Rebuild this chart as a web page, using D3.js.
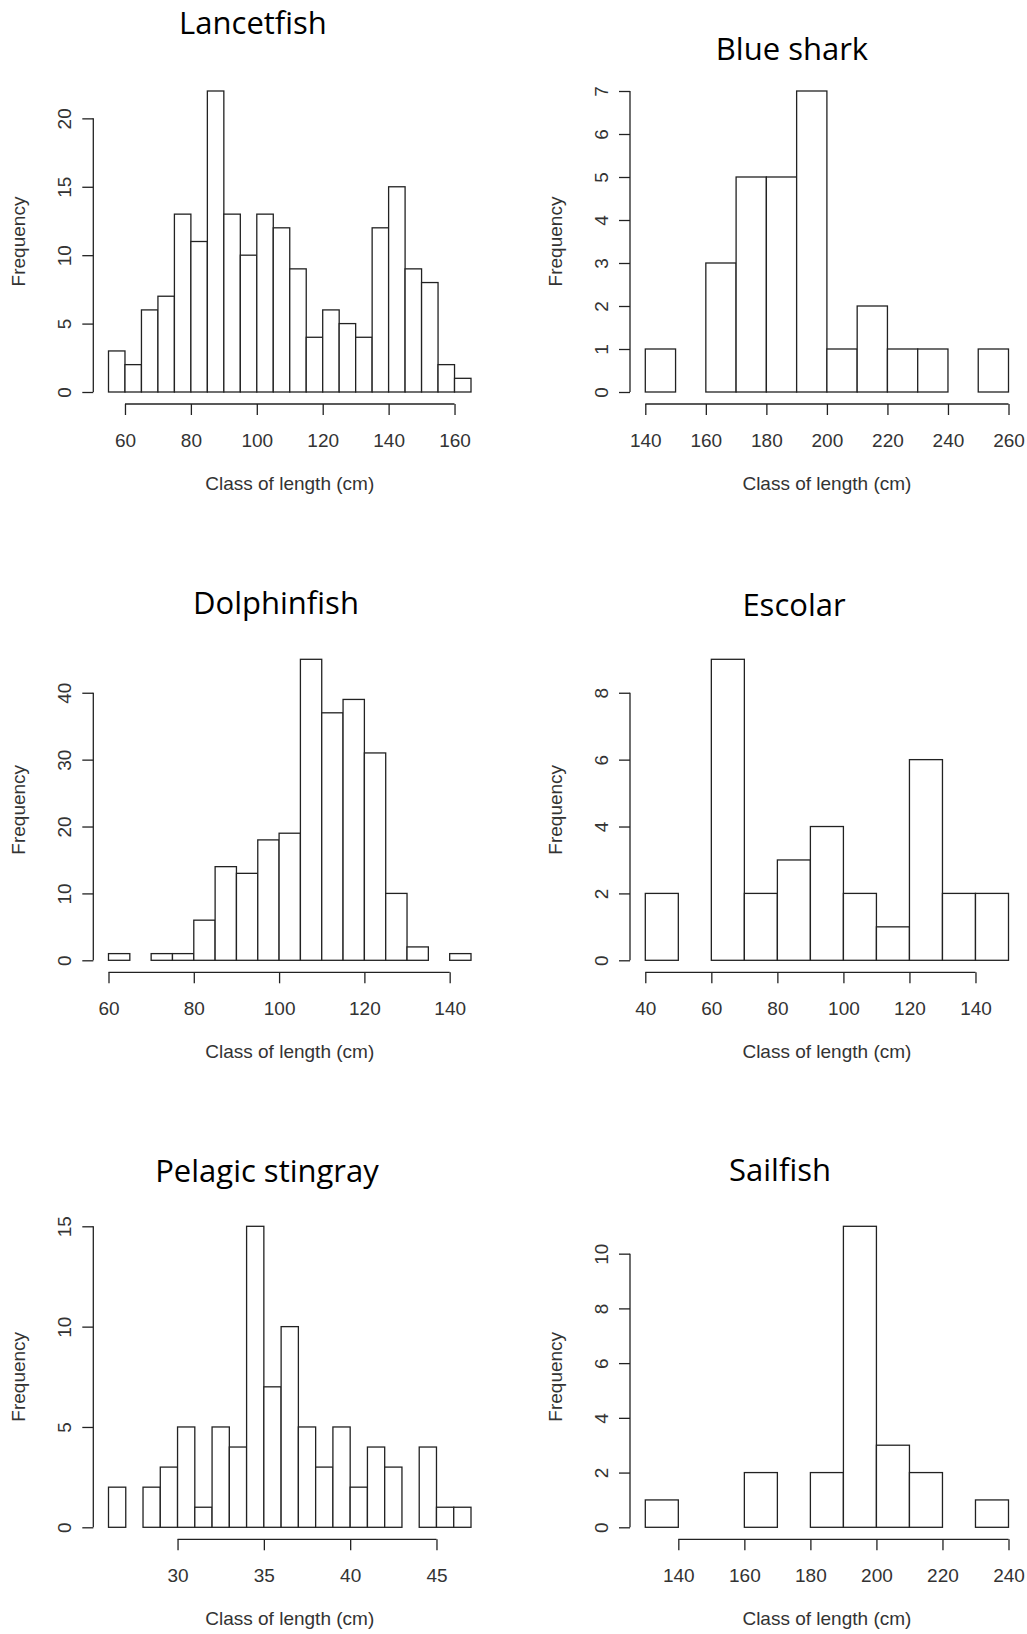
<!DOCTYPE html>
<html>
<head>
<meta charset="utf-8">
<script src="https://cdn.jsdelivr.net/npm/d3@7"></script>
<style>
  body { margin: 0; background: #fff; }
  svg text { font-family: "Liberation Sans", Arial, sans-serif; }
  .tick text, .axis-label { fill: #333; font-size: 19px; }
  .title { font-family: "Open Sans", sans-serif; font-size: 31px; fill: #000; }
</style>
</head>
<body>
<svg id="chart" width="1027" height="1634"></svg>
<script>
const svg = d3.select("#chart");

// panel order: left/right, top to bottom
const titles = ["Lancetfish", "Blue shark", "Dolphinfish", "Escolar", "Pelagic stingray", "Sailfish"];
const binStarts = [55, 140, 60, 40, 26, 130];
const binWidths = [5, 10, 5, 10, 1, 10];

const lancetfishCounts = [3, 2, 6, 7, 13, 11, 22, 13, 10, 13, 12, 9, 4, 6, 5, 4, 12, 15, 9, 8, 2, 1];
const blueSharkCounts = [1, 0, 3, 5, 5, 7, 1, 2, 1, 1, 0, 1];
const dolphinfishCounts = [1, 0, 1, 1, 6, 14, 13, 18, 19, 45, 37, 39, 31, 10, 2, 0, 1];
const escolarCounts = [2, 0, 9, 2, 3, 4, 2, 1, 6, 2, 2];
const stingrayCounts = [2, 0, 2, 3, 5, 1, 5, 4, 15, 7, 10, 5, 3, 5, 2, 4, 3, 0, 4, 1, 1];
const sailfishCounts = [1, 0, 0, 2, 0, 2, 11, 3, 2, 0, 1];
const counts = [lancetfishCounts, blueSharkCounts, dolphinfishCounts, escolarCounts, stingrayCounts, sailfishCounts];

const xTicks = [
  [60, 80, 100, 120, 140, 160],
  [140, 160, 180, 200, 220, 240, 260],
  [60, 80, 100, 120, 140],
  [40, 60, 80, 100, 120, 140],
  [30, 35, 40, 45],
  [140, 160, 180, 200, 220, 240]
];
const yTicks = [
  [0, 5, 10, 15, 20],
  [0, 1, 2, 3, 4, 5, 6, 7],
  [0, 10, 20, 30, 40],
  [0, 2, 4, 6, 8],
  [0, 5, 10, 15],
  [0, 2, 4, 6, 8, 10]
];

// layout (pixels)
const columns = [
  { axisX: 93.3, x0: 108.5, x1: 471 },
  { axisX: 630, x0: 645.3, x1: 1008.5 }
];
const rowBottoms = [392, 960.3, 1527.3];
const plotH = 301;
const titlePos = [[253, 34], [792, 60], [276, 614], [794, 616], [267, 1182], [780, 1181]];
const tickLen = 11;

titles.forEach((title, i) => {
  const col = columns[i % 2];
  const bottom = rowBottoms[Math.floor(i / 2)];
  const data = counts[i];
  const start = binStarts[i], w = binWidths[i];
  const end = start + data.length * w;

  const x = d3.scaleLinear().domain([start, end]).range([col.x0, col.x1]);
  const y = d3.scaleLinear().domain([0, d3.max(data)]).range([bottom, bottom - plotH]);

  const g = svg.append("g");

  g.selectAll("rect")
    .data(data)
    .enter()
    .append("rect")
    .attr("x", (d, j) => x(start + j * w))
    .attr("y", d => y(d))
    .attr("width", x(start + w) - x(start))
    .attr("height", d => y(0) - y(d))
    .attr("fill", "#fff")
    .attr("stroke", "#222")
    .attr("stroke-width", 1.3);

  // y axis, R style: line only spans the ticks, labels turned
  const yt = yTicks[i];
  const yAxis = g.append("g")
    .attr("transform", `translate(${col.axisX},0)`)
    .call(d3.axisLeft(y).tickValues(yt).tickFormat(d3.format("d")).tickSize(tickLen).tickSizeOuter(0));
  yAxis.select(".domain").remove();
  yAxis.append("line")
    .attr("y1", y(yt[0])).attr("y2", y(yt[yt.length - 1]))
    .attr("stroke", "#222").attr("stroke-width", 1.3);
  yAxis.selectAll(".tick line").attr("stroke", "#222").attr("stroke-width", 1.3);
  yAxis.selectAll(".tick text")
    .attr("x", 0).attr("y", -22).attr("dy", 0)
    .attr("transform", "rotate(-90)")
    .style("text-anchor", "middle")
    .style("font-size", "19px");

  // x axis, offset below the bars
  const xt = xTicks[i];
  const xAxis = g.append("g")
    .attr("transform", `translate(0,${bottom + 12})`)
    .call(d3.axisBottom(x).tickValues(xt).tickFormat(d3.format("d")).tickSize(tickLen).tickSizeOuter(0));
  xAxis.select(".domain").remove();
  xAxis.append("line")
    .attr("x1", x(xt[0])).attr("x2", x(xt[xt.length - 1]))
    .attr("stroke", "#222").attr("stroke-width", 1.3);
  xAxis.selectAll(".tick line").attr("stroke", "#222").attr("stroke-width", 1.3);
  xAxis.selectAll(".tick text")
    .attr("y", 43).attr("dy", 0)
    .style("font-size", "19px");

  g.append("text")
    .attr("class", "axis-label")
    .attr("x", (col.x0 + col.x1) / 2)
    .attr("y", bottom + 98)
    .attr("text-anchor", "middle")
    .text("Class of length (cm)");

  g.append("text")
    .attr("class", "axis-label")
    .attr("transform", `translate(${col.axisX - 68},${bottom - plotH / 2}) rotate(-90)`)
    .attr("text-anchor", "middle")
    .text("Frequency");

  g.append("text")
    .attr("class", "title")
    .attr("x", titlePos[i][0])
    .attr("y", titlePos[i][1])
    .attr("text-anchor", "middle")
    .text(title);
});
</script>
</body>
</html>
